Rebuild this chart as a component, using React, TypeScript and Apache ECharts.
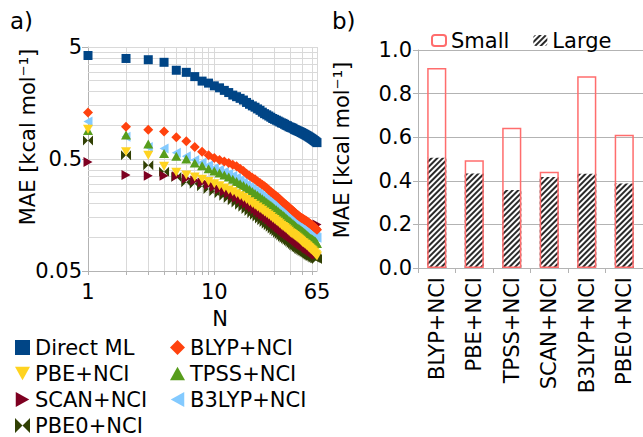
import React, { useEffect, useRef } from 'react';
import * as echarts from 'echarts';

const FONT = 'DejaVu Sans';

const nValues = [
  1, 2, 3, 4, 5, 6, 7, 8, 9, 10, 11, 12, 13, 14, 15, 16, 17, 18, 19, 20,
  21, 22, 23, 24, 25, 26, 27, 28, 29, 30, 31, 32, 33, 34, 35, 36, 37, 38, 39, 40,
  41, 42, 43, 44, 45, 46, 47, 48, 49, 50, 51, 52, 53, 54, 55, 56, 57, 58, 59, 60,
  61, 62, 63, 64, 65,
];

const directML = [
  4.2, 3.95, 3.85, 3.65, 3.1, 2.97, 2.72, 2.48, 2.38, 2.25,
  2.16, 2.05, 1.96, 1.86, 1.8, 1.74, 1.68, 1.6, 1.54, 1.49,
  1.45, 1.4, 1.36, 1.31, 1.27, 1.24, 1.21, 1.18, 1.15, 1.13,
  1.11, 1.09, 1.07, 1.05, 1.04, 1.02, 1.0, 0.99, 0.97, 0.96,
  0.95, 0.94, 0.92, 0.91, 0.9, 0.89, 0.88, 0.87, 0.86, 0.85,
  0.84, 0.83, 0.82, 0.81, 0.8, 0.79, 0.78, 0.77, 0.76, 0.75,
  0.74, 0.73, 0.72, 0.71, 0.7,
];

const blyp = [
  1.3, 0.97, 0.91, 0.88, 0.78, 0.72, 0.64, 0.58, 0.54, 0.51,
  0.49, 0.475, 0.46, 0.445, 0.43, 0.41, 0.39, 0.37, 0.355, 0.34,
  0.33, 0.315, 0.305, 0.295, 0.285, 0.275, 0.265, 0.255, 0.247, 0.24,
  0.233, 0.226, 0.219, 0.212, 0.206, 0.2, 0.195, 0.19, 0.185, 0.18,
  0.176, 0.172, 0.168, 0.164, 0.16, 0.157, 0.154, 0.151, 0.149, 0.147,
  0.145, 0.143, 0.141, 0.139, 0.137, 0.135, 0.133, 0.131, 0.129, 0.127,
  0.125, 0.123, 0.121, 0.119, 0.117,
];

const pbe = [
  0.92, 0.58, 0.54, 0.43, 0.38, 0.36, 0.345, 0.33, 0.315, 0.3,
  0.288, 0.276, 0.265, 0.255, 0.245, 0.235, 0.226, 0.217, 0.208, 0.2,
  0.193, 0.186, 0.18, 0.174, 0.168, 0.163, 0.158, 0.153, 0.148, 0.144,
  0.14, 0.136, 0.132, 0.128, 0.125, 0.122, 0.119, 0.116, 0.113, 0.11,
  0.108, 0.106, 0.104, 0.102, 0.1, 0.098, 0.096, 0.094, 0.092, 0.09,
  0.089, 0.087, 0.086, 0.084, 0.083, 0.081, 0.08, 0.078, 0.077, 0.076,
  0.074, 0.073, 0.071, 0.07, 0.068,
];

const tpss = [
  0.9, 0.82, 0.68, 0.56, 0.53, 0.5, 0.46, 0.435, 0.41, 0.39,
  0.375, 0.36, 0.345, 0.33, 0.315, 0.3, 0.29, 0.278, 0.267, 0.256,
  0.246, 0.237, 0.229, 0.221, 0.213, 0.206, 0.199, 0.193, 0.187, 0.181,
  0.176, 0.171, 0.166, 0.161, 0.157, 0.153, 0.149, 0.145, 0.141, 0.138,
  0.135, 0.132, 0.129, 0.126, 0.123, 0.121, 0.119, 0.117, 0.115, 0.113,
  0.111, 0.109, 0.107, 0.105, 0.103, 0.101, 0.099, 0.098, 0.097, 0.096,
  0.094, 0.093, 0.092, 0.09, 0.088,
];

const scan = [
  0.47, 0.36, 0.355, 0.355, 0.35, 0.335, 0.322, 0.308, 0.295, 0.282,
  0.27, 0.258, 0.247, 0.237, 0.227, 0.218, 0.209, 0.2, 0.192, 0.185,
  0.178, 0.171, 0.165, 0.159, 0.154, 0.149, 0.144, 0.139, 0.135, 0.131,
  0.127, 0.123, 0.12, 0.117, 0.114, 0.111, 0.108, 0.106, 0.104, 0.102,
  0.1, 0.098, 0.096, 0.094, 0.092, 0.09, 0.089, 0.087, 0.086, 0.085,
  0.084, 0.083, 0.081, 0.08, 0.079, 0.078, 0.077, 0.076, 0.075, 0.074,
  0.073, 0.072, 0.071, 0.07, 0.13,
];

const b3lyp = [
  1.08, 0.79, 0.64, 0.62, 0.57, 0.53, 0.49, 0.465, 0.44, 0.415,
  0.4, 0.385, 0.37, 0.355, 0.34, 0.325, 0.31, 0.295, 0.283, 0.272,
  0.262, 0.252, 0.243, 0.235, 0.227, 0.22, 0.213, 0.206, 0.2, 0.194,
  0.188, 0.182, 0.177, 0.172, 0.167, 0.163, 0.159, 0.155, 0.151, 0.147,
  0.144, 0.141, 0.138, 0.135, 0.132, 0.129, 0.127, 0.125, 0.123, 0.121,
  0.119, 0.117, 0.115, 0.113, 0.111, 0.109, 0.107, 0.106, 0.105, 0.104,
  0.103, 0.102, 0.101, 0.1, 0.099,
];

const pbe0 = [
  0.73, 0.54, 0.44, 0.385, 0.345, 0.31, 0.3, 0.285, 0.27, 0.258,
  0.247, 0.235, 0.224, 0.214, 0.204, 0.195, 0.187, 0.179, 0.172, 0.165,
  0.159, 0.153, 0.147, 0.142, 0.137, 0.132, 0.128, 0.124, 0.12, 0.116,
  0.113, 0.11, 0.107, 0.104, 0.101, 0.099, 0.097, 0.095, 0.093, 0.091,
  0.089, 0.087, 0.085, 0.084, 0.082, 0.081, 0.079, 0.078, 0.077, 0.076,
  0.075, 0.074, 0.073, 0.072, 0.071, 0.07, 0.069, 0.068, 0.068, 0.067,
  0.066, 0.066, 0.065, 0.065, 0.064,
];

const barCategories = ['BLYP+NCI', 'PBE+NCI', 'TPSS+NCI', 'SCAN+NCI', 'B3LYP+NCI', 'PBE0+NCI'];
const smallMAE = [0.918, 0.494, 0.643, 0.441, 0.88, 0.611];
const largeMAE = [0.506, 0.433, 0.358, 0.418, 0.432, 0.388];

const yLabelValues = [0.05, 0.5, 5];
const xLabelValues = [1, 10, 65];
const yGridValues = [0.1, 0.15, 0.2, 0.25, 0.3, 0.35, 0.4, 0.45, 0.5, 1, 1.5, 2, 2.5, 3, 3.5, 4, 4.5, 5];
const xGridValues = [2, 3, 4, 5, 6, 7, 8, 9, 10, 20, 30, 40, 50, 60, 65];
const xTickValues = [1, 2, 3, 4, 5, 6, 7, 8, 9, 10, 20, 30, 40, 50, 60];

const scatterDefs = [
  { name: 'Direct ML', data: directML, color: '#004586', symbol: 'rect', size: 9 },
  { name: 'BLYP+NCI', data: blyp, color: '#ff420e', symbol: 'diamond', size: 10 },
  { name: 'PBE+NCI', data: pbe, color: '#ffd320', symbol: 'path://M0,0L10,0L5,9Z', size: [10, 9] },
  { name: 'TPSS+NCI', data: tpss, color: '#579d1c', symbol: 'path://M5,0L10,9L0,9Z', size: [10, 9] },
  { name: 'SCAN+NCI', data: scan, color: '#7e0021', symbol: 'path://M0,0L9,5L0,10Z', size: [9, 10] },
  { name: 'B3LYP+NCI', data: b3lyp, color: '#83caff', symbol: 'path://M9,0L0,5L9,10Z', size: [9, 10] },
  { name: 'PBE0+NCI', data: pbe0, color: '#314004', symbol: 'path://M0,0L5,5L0,10ZM10,0L5,5L10,10Z', size: [10, 10] },
];

const textBase = { fontFamily: FONT, fontSize: 21, color: '#000' };

export default function App() {
  const ref = useRef<HTMLDivElement>(null);
  useEffect(() => {
    const chart = echarts.init(ref.current!, null, { renderer: 'svg' });
    const scatterSeries: any[] = scatterDefs.map((d, i) => ({
      type: 'scatter',
      name: d.name,
      xAxisIndex: 0,
      yAxisIndex: 0,
      symbol: d.symbol,
      symbolSize: d.size,
      itemStyle: { color: d.color, opacity: 1 },
      z: 10 - i,
      data: nValues.map((n, k) => [n, d.data[k]]),
    }));
    const option: any = {
      animation: false,
      backgroundColor: '#fff',
      textStyle: { fontFamily: FONT },
      grid: [
        { left: 88, top: 47, right: 326, bottom: 166 },
        { left: 418, top: 50, right: -2, bottom: 169 },
      ],
      xAxis: [
        {
          type: 'log',
          logBase: 10,
          gridIndex: 0,
          min: 1,
          max: 65,
          axisLine: { show: true, lineStyle: { color: '#b3b3b3', width: 1 } },
          axisTick: { show: true, customValues: xTickValues, length: 4, lineStyle: { color: '#b3b3b3' } },
          axisLabel: {
            ...textBase,
            customValues: xLabelValues,
            margin: 10,
            formatter: (v: number) => String(Math.round(v)),
          },
          splitLine: { show: false },
          minorSplitLine: { show: false },
        },
        {
          type: 'category',
          gridIndex: 1,
          data: barCategories,
          axisLine: { show: true, lineStyle: { color: '#b3b3b3', width: 1 } },
          axisTick: { show: true, length: 5, lineStyle: { color: '#b3b3b3' } },
          axisLabel: { ...textBase, rotate: 90, margin: 9 },
        },
      ],
      yAxis: [
        {
          type: 'log',
          logBase: 10,
          gridIndex: 0,
          min: 0.05,
          max: 5,
          axisLine: { show: true, lineStyle: { color: '#b3b3b3', width: 1 } },
          axisTick: { show: true, customValues: yLabelValues, length: 6, lineStyle: { color: '#b3b3b3' } },
          axisLabel: {
            ...textBase,
            customValues: yLabelValues,
            margin: 6,
            formatter: (v: number) => String(+Number(v).toPrecision(2)),
          },
          splitLine: { show: false },
        },
        {
          type: 'value',
          gridIndex: 1,
          min: 0,
          max: 1,
          interval: 0.2,
          axisLine: { show: true, lineStyle: { color: '#b3b3b3', width: 1 } },
          axisTick: { show: true, length: 5, lineStyle: { color: '#b3b3b3' } },
          axisLabel: { ...textBase, margin: 6, formatter: (v: number) => v.toFixed(1) },
          splitLine: { show: true, lineStyle: { color: '#b3b3b3', width: 1 } },
        },
      ],
      legend: [
        {
          data: ['Direct ML', 'PBE+NCI', 'SCAN+NCI', 'PBE0+NCI'],
          orient: 'vertical',
          left: 15,
          top: 337,
          height: 140,
          padding: 0,
          itemGap: 5,
          itemWidth: 15,
          itemHeight: 15,
          textStyle: { ...textBase },
        },
        {
          data: ['BLYP+NCI', 'TPSS+NCI', 'B3LYP+NCI'],
          orient: 'vertical',
          left: 170,
          top: 337,
          height: 140,
          padding: 0,
          itemGap: 5,
          itemWidth: 15,
          itemHeight: 15,
          textStyle: { ...textBase },
        },
        {
          data: ['Small', 'Large'],
          orient: 'horizontal',
          left: 431,
          top: 30,
          padding: 0,
          itemGap: 24,
          itemWidth: 14,
          itemHeight: 11,
          textStyle: { ...textBase },
        },
      ],
      series: [
        {
          type: 'scatter',
          name: 'grid-lines',
          xAxisIndex: 0,
          yAxisIndex: 0,
          data: [],
          z: 1,
          silent: true,
          markLine: {
            silent: true,
            z: 1,
            symbol: ['none', 'none'],
            label: { show: false },
            emphasis: { disabled: true },
            lineStyle: { color: '#d9d9d9', type: 'solid', width: 1 },
            data: [
              ...yGridValues.map((v) => ({ yAxis: v })),
              ...xGridValues.map((v) => ({ xAxis: v })),
            ],
          },
        },
        ...scatterSeries,
        {
          type: 'bar',
          name: 'Large',
          xAxisIndex: 1,
          yAxisIndex: 1,
          barWidth: '51%',
          barGap: '-100%',
          itemStyle: {
            color: '#ffffff',
            decal: {
              symbol: 'rect',
              symbolSize: 1,
              dashArrayX: [1, 0],
              dashArrayY: [1.2, 1.8],
              rotation: -Math.PI / 4,
              color: '#2a2a2a',
            },
          },
          data: largeMAE,
        },
        {
          type: 'bar',
          name: 'Small',
          xAxisIndex: 1,
          yAxisIndex: 1,
          barWidth: '51%',
          barGap: '-100%',
          itemStyle: { color: 'rgba(255,255,255,0)', borderColor: '#ff6d6d', borderWidth: 1.5 },
          data: smallMAE,
        },
      ],
      graphic: [
        { type: 'text', left: 10, top: 9, style: { text: 'a)', font: `23px "${FONT}"`, fill: '#000' } },
        { type: 'text', left: 332, top: 9, style: { text: 'b)', font: `23px "${FONT}"`, fill: '#000' } },
        {
          type: 'text',
          x: 220,
          y: 319,
          style: { text: 'N', font: `21px "${FONT}"`, fill: '#000', align: 'center', verticalAlign: 'middle' },
        },
        {
          type: 'text',
          x: 28,
          y: 137,
          rotation: Math.PI / 2,
          style: { text: 'MAE [kcal mol⁻¹]', font: `21px "${FONT}"`, fill: '#000', align: 'center', verticalAlign: 'middle' },
        },
        {
          type: 'text',
          x: 342,
          y: 150,
          rotation: Math.PI / 2,
          style: { text: 'MAE [kcal mol⁻¹]', font: `21px "${FONT}"`, fill: '#000', align: 'center', verticalAlign: 'middle' },
        },
      ],
    };
    chart.setOption(option);
    return () => chart.dispose();
  }, []);
  return <div ref={ref} style={{ position: 'absolute', left: 0, top: 0, width: 643, height: 437 }} />;
}
